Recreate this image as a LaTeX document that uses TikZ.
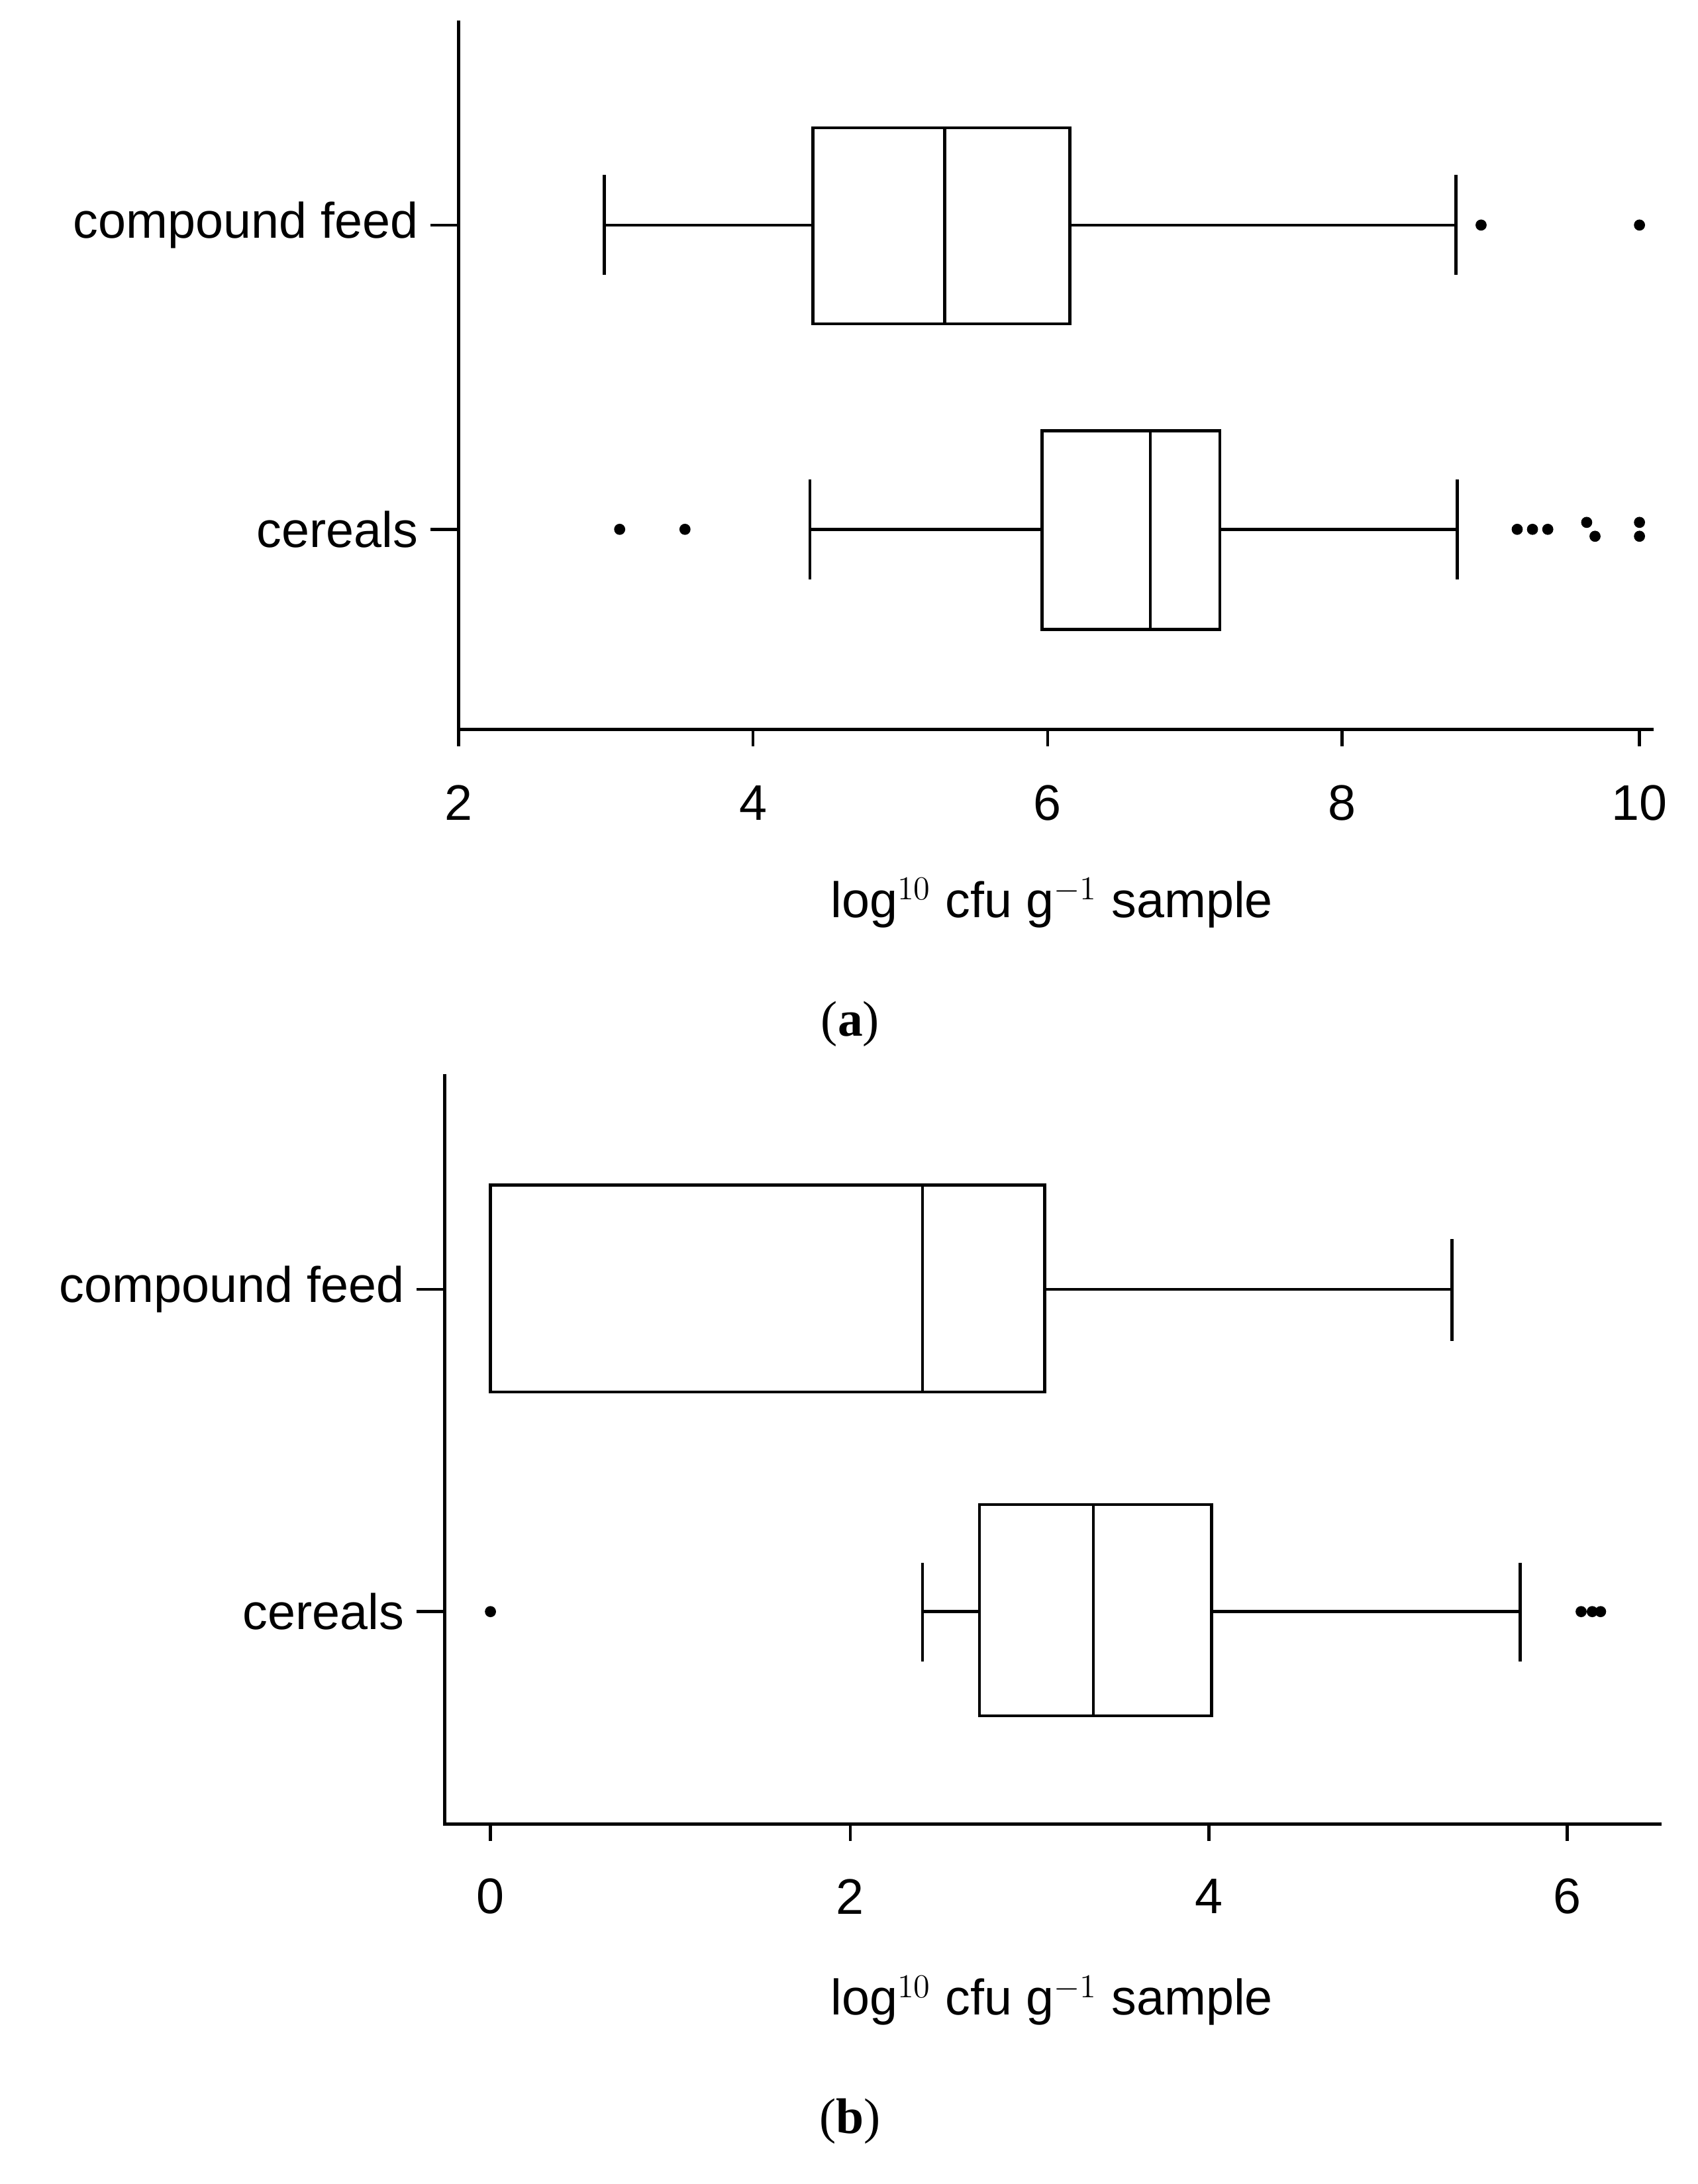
\documentclass[tikz,border=0pt]{standalone}
\usepackage{fontspec}
\setmainfont{Liberation Serif}
\newfontfamily\lab{Liberation Sans}
\begin{document}
\begin{tikzpicture}[x=0.5pt,y=-0.5pt,line width=1.1pt,
  txt/.style={font=\lab\fontsize{18}{20}\selectfont,inner sep=0pt},
  captxt/.style={font=\fontsize{18}{20}\selectfont,inner sep=0pt},
  dot/.style={fill=black,circle,inner sep=0pt,minimum size=4pt}]
\fill[white] (0,0) rectangle (1222,1572);
% ---------- panel a
\coordinate (ao) at (330,525);
\draw (330,15) -- (ao) -- (1190,525);
\foreach \v/\x in {2/330,4/542,6/754,8/966,10/1180}{
  \draw (\x,525) -- (\x,537);
  \node[txt] (at\v) at (\x,578) {\v};}
\draw (310,162) -- (330,162); \draw (310,381) -- (330,381);
\node[txt,anchor=east] (acf) at (302,162) {compound feed};
\node[txt,anchor=east] (ace) at (302,381) {cereals};
% CF
\draw (585,92) rectangle (770,233); \draw (680,92) -- (680,233);
\draw (435,162) -- (585,162); \draw (770,162) -- (1048,162);
\draw (435,126) -- (435,198); \draw (1048,126) -- (1048,198);
\node[dot] at (1066,162) {}; \node[dot] at (1180,162) {};
% cereals
\draw (750,310) rectangle (878,453); \draw (828,310) -- (828,453);
\draw (583,381) -- (750,381); \draw (878,381) -- (1049,381);
\draw (583,345) -- (583,417); \draw (1049,345) -- (1049,417);
\foreach \x/\y in {446/381,493/381,1092/381,1103/381,1114/381,1142/376,1148/386,1180/376,1180/386}
  \node[dot] at (\x,\y) {};
\node[txt] (ax) at (757,650) {log$^{10}$ cfu g$^{-1}$ sample};
\node[captxt] (ca) at (612,737) {(\textbf{a})};
% ---------- panel b
\draw (320,773) -- (320,1313) -- (1196,1313);
\foreach \v/\x in {0/353,2/612,4/870,6/1128}{
  \draw (\x,1313) -- (\x,1325);
  \node[txt] (bt\v) at (\x,1365) {\v};}
\draw (300,928) -- (320,928); \draw (300,1160) -- (320,1160);
\node[txt,anchor=east] (bcf) at (292,928) {compound feed};
\node[txt,anchor=east] (bce) at (292,1160) {cereals};
\draw (353,853) rectangle (752,1002); \draw (664,853) -- (664,1002);
\draw (752,928) -- (1045,928); \draw (1045,892) -- (1045,965);
\draw (705,1083) rectangle (872,1235); \draw (787,1083) -- (787,1235);
\draw (664,1160) -- (705,1160); \draw (872,1160) -- (1094,1160);
\draw (664,1125) -- (664,1196); \draw (1094,1125) -- (1094,1196);
\foreach \x in {353,1138,1146,1152} \node[dot] at (\x,1160) {};
\node[txt] (bx) at (757,1440) {log$^{10}$ cfu g$^{-1}$ sample};
\node[captxt] (cb) at (612,1527) {(\textbf{b})};
\end{tikzpicture}
\end{document}
